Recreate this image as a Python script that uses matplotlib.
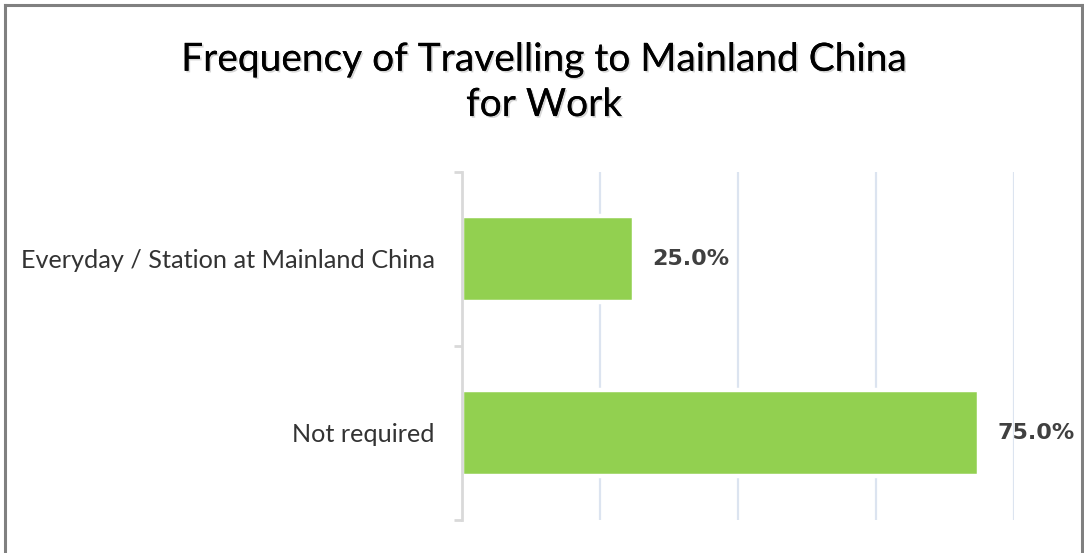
import matplotlib
matplotlib.use("Agg")
import matplotlib.pyplot as plt
from matplotlib.lines import Line2D
import matplotlib.patheffects as pe

# =====================================================
# DATA
# =====================================================

categories = ["Everyday / Station at Mainland China", "Not required"]
values = [25.0, 75.0]
title = "Frequency of Travelling to Mainland China\nfor Work"

grid_ticks = [20, 40, 60, 80]

# =====================================================
# FIGURE
# =====================================================

fig = plt.figure(figsize=(10.84, 5.53), dpi=100)
ax = fig.add_axes([0.4262, 0.0597, 0.5092, 0.6293])

y = list(range(len(categories)))

ax.barh(
    y,
    values,
    height=0.494,
    color="#92D050",
    edgecolor="white",
    linewidth=3.2,
    zorder=2
)

ax.set_xlim(0, 80)
ax.set_ylim(len(categories) - 0.5, -0.5)

# gridlines
ax.set_xticks(grid_ticks)
ax.xaxis.grid(True, color="#DCE4F0", linewidth=1.6, zorder=0)
ax.tick_params(axis="x", length=0, labelbottom=False)

# category axis
ax.set_yticks([i - 0.5 for i in range(len(categories) + 1)], minor=False)
ax.set_yticklabels([])
ax.set_yticks(y, minor=True)
ax.set_yticklabels(categories, minor=True, fontsize=18.2,
                   family="Lato", color="#333333")
ax.tick_params(axis="y", which="major", length=6, width=2,
               color="#D9D9D9", direction="out")
ax.tick_params(axis="y", which="minor", length=0, pad=19.5)

for s in ["top", "right", "bottom"]:
    ax.spines[s].set_visible(False)
ax.spines["left"].set_color("#D9D9D9")
ax.spines["left"].set_linewidth(2)
ax.spines["left"].set_zorder(3)

# value labels
for i, v in enumerate(values):
    ax.text(
        v + 2.6, i, f"{v:.1f}%",
        va="center", ha="left",
        fontsize=16, fontweight="bold",
        family="DejaVu Sans", color="#404040"
    )

# title
fig.text(
    0.502, 0.851, title,
    ha="center", va="center",
    fontsize=28, family="Lato", color="black",
    linespacing=1.32,
    path_effects=[pe.withSimplePatchShadow(offset=(1.2, -1.2),
                                           shadow_rgbFace="#999999",
                                           alpha=0.4),
                  pe.Normal()]
)

# chart border
bc = "#808080"
fig.add_artist(Line2D([0.0046, 0.9985], [0.9905, 0.9905], color=bc, lw=2.2))
fig.add_artist(Line2D([0.0046, 0.0046], [0.0, 0.9905], color=bc, lw=2.2))
fig.add_artist(Line2D([0.9985, 0.9985], [0.0, 0.9905], color=bc, lw=2.2))

plt.savefig("out.png", dpi=100)
plt.close()
